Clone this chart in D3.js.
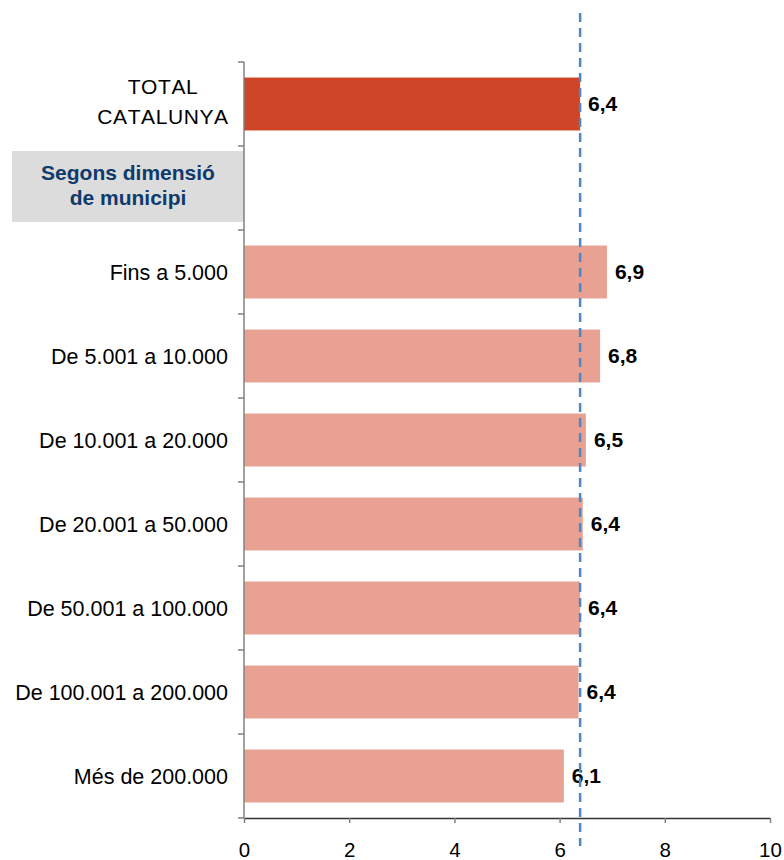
<!DOCTYPE html>
<html>
<head>
<meta charset="utf-8">
<script src="https://cdn.jsdelivr.net/npm/d3@7"></script>
<style>
  body { margin: 0; background: #fff; }
  text { font-family: "Liberation Sans", Arial, sans-serif; }
</style>
</head>
<body>
<div id="chart"></div>
<script>
// data
var categories = [
  "TOTAL CATALUNYA",
  "Segons dimensió de municipi",
  "Fins a 5.000",
  "De 5.001 a 10.000",
  "De 10.001 a 20.000",
  "De 20.001 a 50.000",
  "De 50.001 a 100.000",
  "De 100.001 a 200.000",
  "Més de 200.000"
];
var values = [6.39, null, 6.90, 6.77, 6.50, 6.44, 6.39, 6.36, 6.08];
var xTicks = [0, 2, 4, 6, 8, 10];
var refValue = 6.39; // dashed line = total Catalunya

var svgWidth = 784;
var svgHeight = 860;

var margin = { top: 62, right: 14, bottom: 42, left: 244 };

var svg = d3.select("#chart")
  .append("svg")
  .attr("width", svgWidth)
  .attr("height", svgHeight);

var x = d3.scaleLinear()
  .domain([0, 10])
  .range([margin.left, svgWidth - margin.right]);

var y = d3.scaleBand()
  .domain(categories)
  .range([margin.top, svgHeight - margin.bottom])
  .paddingInner(0.37)
  .paddingOuter(0.185);

var fmt = d3.formatLocale({ decimal: ",", thousands: ".", grouping: [3], currency: ["", "€"] }).format(".1f");

var step = y.step();
var yTop = y.range()[0];
var yBottom = y.range()[1];

// header box for the group title
var headerCat = categories[1];
var headerMid = y(headerCat) + y.bandwidth() / 2;
svg.append("rect")
  .attr("x", 12)
  .attr("y", headerMid - 37)
  .attr("width", x(0) - 12)
  .attr("height", 71)
  .attr("fill", "#dcdcdc");

svg.append("text")
  .attr("x", 128)
  .attr("y", headerMid)
  .attr("text-anchor", "middle")
  .attr("font-size", 21)
  .attr("font-weight", "bold")
  .attr("fill", "#0e3a6c")
  .selectAll("tspan")
  .data(["Segons dimensió", "de municipi"])
  .enter()
  .append("tspan")
  .attr("x", 128)
  .attr("y", (d, i) => headerMid - 8 + i * 25)
  .text(d => d);

// bars
var barData = categories.map((c, i) => ({ cat: c, value: values[i], i: i }))
  .filter(d => d.value !== null);

svg.selectAll("rect.bar")
  .data(barData)
  .enter()
  .append("rect")
  .attr("class", "bar")
  .attr("x", x(0))
  .attr("y", d => y(d.cat))
  .attr("width", d => x(d.value) - x(0))
  .attr("height", y.bandwidth())
  .attr("fill", d => d.i === 0 ? "#cf4527" : "#e8a192");

// value labels
svg.selectAll("text.val")
  .data(barData)
  .enter()
  .append("text")
  .attr("class", "val")
  .attr("x", d => x(d.value) + 8)
  .attr("y", d => y(d.cat) + y.bandwidth() / 2)
  .attr("dy", "0.35em")
  .attr("font-size", 21)
  .attr("font-weight", "bold")
  .attr("fill", "#000")
  .text(d => fmt(d.value));

// category labels
var totalMid = y(categories[0]) + y.bandwidth() / 2;
svg.append("text")
  .attr("text-anchor", "middle")
  .attr("font-size", 21)
  .attr("fill", "#000")
  .style("font-kerning", "none")
  .attr("letter-spacing", 0.6)
  .selectAll("tspan")
  .data(["TOTAL", "CATALUNYA"])
  .enter()
  .append("tspan")
  .attr("x", 163)
  .attr("y", (d, i) => totalMid - 10 + i * 30)
  .text(d => d);

svg.selectAll("text.cat")
  .data(categories.slice(2))
  .enter()
  .append("text")
  .attr("class", "cat")
  .attr("x", 228)
  .attr("y", d => y(d) + y.bandwidth() / 2)
  .attr("dy", "0.35em")
  .attr("text-anchor", "end")
  .attr("font-size", 21.5)
  .attr("fill", "#000")
  .text(d => d);

// y axis: line + ticks between categories
svg.append("line")
  .attr("x1", x(0)).attr("x2", x(0))
  .attr("y1", yTop).attr("y2", yBottom)
  .attr("stroke", "#808080")
  .attr("stroke-width", 1.5);

svg.selectAll("line.ytick")
  .data(d3.range(categories.length + 1))
  .enter()
  .append("line")
  .attr("class", "ytick")
  .attr("x1", x(0) - 6).attr("x2", x(0))
  .attr("y1", i => yTop + i * step)
  .attr("y2", i => yTop + i * step)
  .attr("stroke", "#808080")
  .attr("stroke-width", 1.5);

// x axis
var xAxis = d3.axisBottom(x)
  .tickValues(xTicks)
  .tickSize(5)
  .tickSizeOuter(0)
  .tickPadding(19);

var gx = svg.append("g")
  .attr("transform", `translate(0, ${yBottom})`)
  .call(xAxis);

gx.select(".domain").attr("stroke", "#333").attr("stroke-width", 1.5);
gx.selectAll(".tick line").attr("stroke", "#808080").attr("stroke-width", 1.5);
gx.selectAll(".tick text")
  .attr("font-size", 20.5)
  .attr("font-family", "Liberation Sans, Arial, sans-serif")
  .attr("fill", "#000");

// dashed reference line
svg.append("line")
  .attr("x1", x(refValue)).attr("x2", x(refValue))
  .attr("y1", 13).attr("y2", 846)
  .attr("stroke", "#4f86c4")
  .attr("stroke-width", 2.5)
  .attr("stroke-dasharray", "9,6");
</script>
</body>
</html>
